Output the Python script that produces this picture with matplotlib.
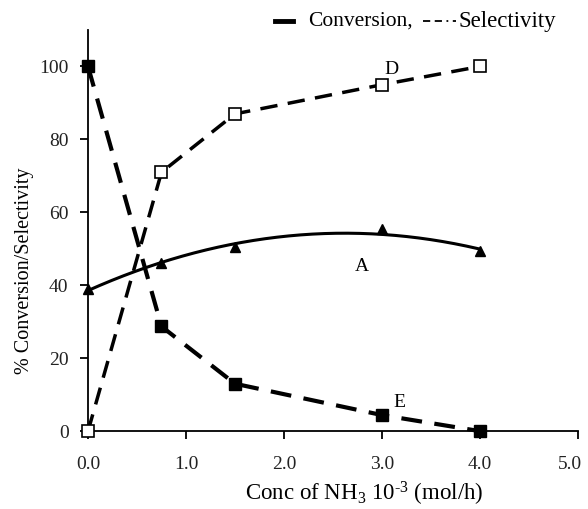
import numpy as np
import matplotlib
matplotlib.use('Agg')
import matplotlib.pyplot as plt
from matplotlib.lines import Line2D
from matplotlib.transforms import ScaledTranslation

plt.rcParams['font.family'] = ['Liberation Serif', 'DejaVu Serif']
plt.rcParams['mathtext.fontset'] = 'custom'
plt.rcParams['mathtext.rm'] = 'Liberation Serif'
plt.rcParams['mathtext.it'] = 'Liberation Serif:italic'

# data
conc = [0.0, 0.75, 1.5, 3.0, 4.0]
conversion = [100, 28.7, 13, 4.4, 0]      # E, filled squares
selectivity = [0, 71, 87, 95, 100]        # D, open squares
series_a = [39, 46, 50.5, 55.3, 49.3]     # A, triangles with trend line

fig = plt.figure(figsize=(5.88, 5.09), dpi=100)
ax = fig.add_axes([0.1497, 0.153, 0.833, 0.788])

# trend line for A (quadratic fit of its points)
coef = np.polyfit(conc, series_a, 2)
xs = np.linspace(0, 4.0, 200)
ax.plot(xs, np.polyval(coef, xs), color='black', lw=2.2, zorder=2)
ax.plot(conc, series_a, ls='none', marker='^', ms=7.5, color='black',
        zorder=3, clip_on=False)

ax.plot(conc, conversion, color='black', lw=3, dashes=(5, 3),
        marker='s', ms=8.5, mfc='black', mec='black', zorder=3, clip_on=False)
ax.plot(conc, selectivity, color='black', lw=2.5, dashes=(5, 3),
        marker='s', ms=8.5, mfc='white', mec='black', mew=1.2, zorder=4,
        clip_on=False)

ax.text(3.03, 98, 'D', fontsize=14)
ax.text(2.72, 44, 'A', fontsize=14)
ax.text(3.12, 6.5, 'E', fontsize=14)

ax.set_xlim(0, 5.0)
ax.set_ylim(0, 110)
ax.set_xticks([0, 1, 2, 3, 4, 5])
ax.set_xticklabels(['0.0', '1.0', '2.0', '3.0', '4.0', '5.0'])
ax.set_yticks([0, 20, 40, 60, 80, 100])
for s in ['top', 'right']:
    ax.spines[s].set_visible(False)
for s in ['left', 'bottom']:
    ax.spines[s].set_linewidth(1.3)
ax.tick_params(labelsize=14, width=1.3, length=6)
ax.tick_params(axis='x', pad=12)
ax.tick_params(axis='y', pad=8)
ax.set_xlabel('Conc of NH$_3$ 10$^{\u2010\\mathrm{3}}$ (mol/h)', fontsize=16.5)
ax.set_ylabel('% Conversion/Selectivity', fontsize=14.5)
ax.xaxis.set_label_coords(0.565, -0.122)
ax.yaxis.set_label_coords(-0.11, 0.40)
for lab in ax.get_xticklabels() + ax.get_yticklabels():
    lab.set_color('#222222')
# keep the last x label inside the figure
last = ax.get_xticklabels()[-1]
last.set_transform(last.get_transform() + ScaledTranslation(-0.08, 0, fig.dpi_scale_trans))

# legend drawn at the top as text with line handles
fig.add_artist(Line2D([275 / 588, 293 / 588], [1 - 21 / 509, 1 - 21 / 509],
                      color='black', lw=3.5))
fig.text(308 / 588, 1 - 21 / 509, 'Conversion,', fontsize=15.5, va='center')
fig.add_artist(Line2D([423 / 588, 456 / 588], [1 - 21 / 509, 1 - 21 / 509],
                      color='black', lw=1.3, dashes=(4, 2.5, 4, 2.5, 1, 2.5)))
fig.text(458 / 588, 1 - 21 / 509, 'Selectivity', fontsize=16.5, va='center')

fig.savefig('out.png', dpi=100)
